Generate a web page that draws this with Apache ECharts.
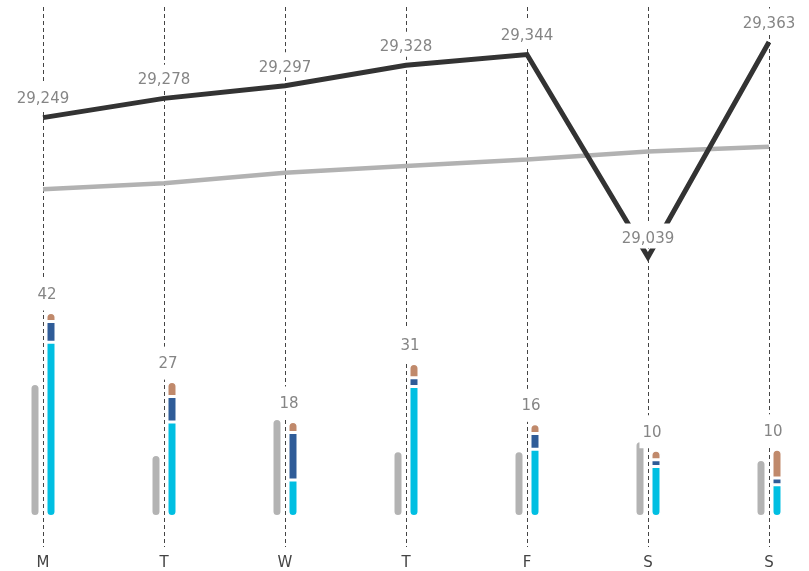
<!DOCTYPE html>
<html><head><meta charset="utf-8">
<script src="https://cdn.jsdelivr.net/npm/echarts@6/dist/echarts.min.js"></script>
<style>html,body{margin:0;padding:0;background:#fff}#c{width:809px;height:571px}</style>
</head><body><div id="c"></div>
<script>
const days = ['M','T','W','T','F','S','S'];
const mainLine = [29249,29278,29297,29328,29344,29039,29363];
const trendLine = [29141,29150,29166,29176,29186,29198,29205];
const grayBar = [27.7,12.9,20.4,13.7,13.7,15.8,11.9];
const cyanBar = [36.3,19.7,7.6,27.1,14.0,10.4,6.6];
const blueBar = [4.3,5.3,9.9,1.8,3.3,1.4,1.4];
const brownBar = [1.9,3.1,2.3,3.0,2.0,2.0,6.0];
const totals = [42,27,18,31,16,10,10];

const FONT = 'DejaVu Sans';
const LABEL_GRAY = '#858585';
const chart = echarts.init(document.getElementById('c'), null, {renderer:'canvas'});
const fmt = v => Number(v).toLocaleString('en-US');
const catAxis = (idx, extra) => Object.assign({
  type:'category', data: days, gridIndex: idx, boundaryGap:false,
  axisLine:{show:false}, axisTick:{show:false}, axisLabel:{show:false}, splitLine:{show:false}
}, extra || {});
const barBase = {
  type:'bar', xAxisIndex:1, yAxisIndex:1, barWidth:10, barGap:'60%',
  emphasis:{disabled:true}
};
chart.setOption({
  animation:false,
  textStyle:{fontFamily:FONT},
  grid:[
    {left:43, right:40, top:7, bottom:24},
    {left:43, right:40, top:276.5, bottom:54.5},
    {left:43, right:40, top:17.4, bottom:221.8}
  ],
  xAxis:[
    catAxis(0, {
      axisLabel:{show:true, color:'#444', fontSize:15, fontFamily:FONT, margin:9},
      splitLine:{show:true, lineStyle:{color:'#444', width:1, type:[4,3]}}
    }),
    catAxis(1),
    catAxis(2)
  ],
  yAxis:[
    {type:'value', gridIndex:0, show:false},
    {type:'value', gridIndex:1, show:false, min:0, max:50},
    {type:'value', gridIndex:2, show:false, min:28900, max:29400}
  ],
  series:[
    Object.assign({}, barBase, {
      name:'gray', data: grayBar,
      itemStyle:{color:'#b3b3b3', borderColor:'#fff', borderWidth:1.5, borderRadius:5}
    }),
    Object.assign({}, barBase, {
      name:'cyan', stack:'s', data: cyanBar,
      itemStyle:{color:'#00bfe2', borderColor:'#fff', borderWidth:1.5, borderRadius:[0,0,5,5]}
    }),
    Object.assign({}, barBase, {
      name:'blue', stack:'s', data: blueBar,
      itemStyle:{color:'#2f5c98', borderColor:'#fff', borderWidth:1.5, borderRadius:0}
    }),
    Object.assign({}, barBase, {
      name:'brown', stack:'s', data: brownBar,
      itemStyle:{color:'#c0896b', borderColor:'#fff', borderWidth:1.5, borderRadius:[5,5,0,0]},
      label:{show:true, position:'top', distance:2, offset:[-4,0],
        formatter: p => String(totals[p.dataIndex]),
        color:LABEL_GRAY, fontSize:15, fontFamily:FONT,
        backgroundColor:'#fff', padding:[10,3,8,3]}
    }),
    {
      type:'line', name:'trend', xAxisIndex:2, yAxisIndex:2, data: trendLine,
      symbol:'none', lineStyle:{color:'#b2b2b2', width:4.5}, emphasis:{disabled:true}
    },
    {
      type:'line', name:'main', xAxisIndex:2, yAxisIndex:2, data: mainLine,
      symbol:'circle', symbolSize:1, itemStyle:{color:'rgba(0,0,0,0)'},
      lineStyle:{color:'#333', width:5, join:'miter', miterLimit:10},
      emphasis:{disabled:true},
      label:{show:true, position:'top', distance:10, offset:[0,2],
        formatter: p => fmt(p.value),
        color:LABEL_GRAY, fontSize:15, fontFamily:FONT,
        backgroundColor:'#fff', padding:[8,3,2,3]}
    }
  ]
});
</script></body></html>
